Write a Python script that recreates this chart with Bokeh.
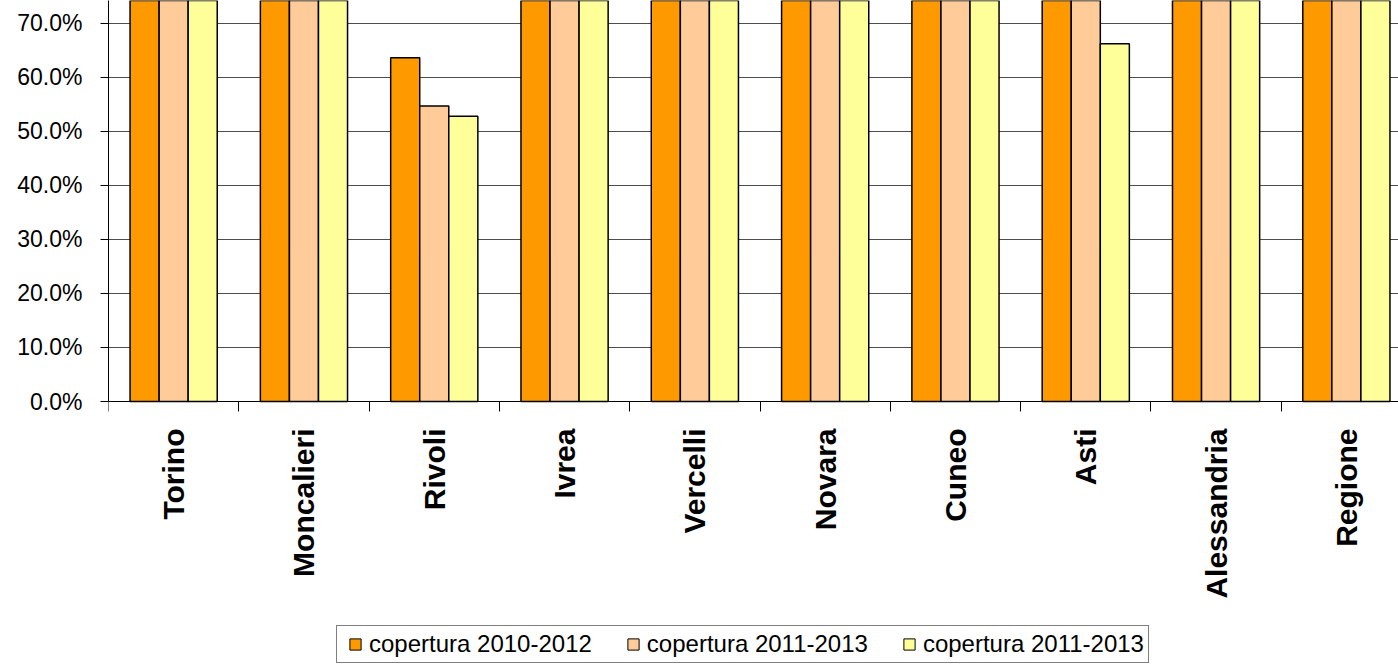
import math
from bokeh.plotting import figure
from bokeh.models import (Range1d, FixedTicker, NumeralTickFormatter, Legend,
                          LegendItem, ColumnDataSource, CustomJSTickFormatter)
from bokeh.embed import file_html
from bokeh.resources import INLINE

# Screening coverage by area (fraction of target population)
areas = ["Torino", "Moncalieri", "Rivoli", "Ivrea", "Vercelli",
         "Novara", "Cuneo", "Asti", "Alessandria", "Regione"]
cov_2010_2012 = [0.905, 0.880, 0.636, 0.910, 0.895, 0.870, 0.900, 0.850, 0.885, 0.880]
cov_2011_2013_a = [0.915, 0.890, 0.547, 0.905, 0.900, 0.880, 0.905, 0.820, 0.890, 0.885]
cov_2011_2013_b = [0.920, 0.895, 0.528, 0.915, 0.905, 0.885, 0.910, 0.662, 0.895, 0.890]
series_labels = ["copertura 2010-2012", "copertura 2011-2013", "copertura 2011-2013"]
series_colors = ["#FF9900", "#FFCC99", "#FFFF99"]
y_ticks = [0.0, 0.1, 0.2, 0.3, 0.4, 0.5, 0.6, 0.7]

FONT = "Liberation Sans"
BAR_W = 0.223
centers = [i + 0.5 for i in range(len(areas))]

# The frame covers the whole canvas right of the value axis; the region below
# zero holds the category labels and the legend.
FRAME_W, FRAME_H, PLOT_H = 1290, 664, 401
Y_TOP = 0.742
Y_BOTTOM = -Y_TOP * (FRAME_H - PLOT_H) / PLOT_H

p = figure(output_backend="svg", toolbar_location=None,
           x_range=Range1d(0, 9.9), y_range=Range1d(Y_BOTTOM, Y_TOP),
           min_border_left=108, min_border_right=0, min_border_top=0,
           min_border_bottom=0)
p.frame_width = FRAME_W
p.frame_height = FRAME_H
p.outline_line_color = None
p.background_fill_color = "white"
p.border_fill_color = "white"

legend_items = []
for k, (vals, color, lab) in enumerate(zip([cov_2010_2012, cov_2011_2013_a, cov_2011_2013_b],
                                           series_colors, series_labels)):
    src = ColumnDataSource(dict(x=[c + (k - 1) * BAR_W for c in centers], top=vals))
    p.vbar(x="x", top="top", width=BAR_W, bottom=0, source=src,
           fill_color=color, line_color="black", line_width=1.5)
    # square swatch used only as the legend key (its point lies outside the view)
    key = p.scatter(x=[-1], y=[-1], marker="square", fill_color=color,
                    line_color="black", line_width=1)
    legend_items.append(LegendItem(label=lab, renderers=[key]))

# x axis at zero: labels at category centres, ticks at category boundaries
xa = p.xaxis[0]
xa.fixed_location = 0
xa.ticker = FixedTicker(ticks=centers, minor_ticks=list(range(len(areas))))
xa.formatter = CustomJSTickFormatter(args=dict(names=areas),
                                     code="return names[Math.floor(tick)]")
xa.major_tick_out = 0
xa.major_tick_in = 0
xa.minor_tick_out = 10
xa.minor_tick_in = 0
xa.minor_tick_line_color = "black"
xa.axis_line_color = "black"
xa.major_label_orientation = math.pi / 2
xa.major_label_standoff = 17
xa.major_label_text_font = FONT
xa.major_label_text_font_style = "bold"
xa.major_label_text_font_size = "30px"
xa.major_label_text_color = "black"

ya = p.yaxis[0]
ya.bounds = (0, Y_TOP)
ya.ticker = FixedTicker(ticks=y_ticks)
ya.formatter = NumeralTickFormatter(format="0.0%")
ya.major_tick_out = 8
ya.major_tick_in = 0
ya.minor_tick_line_color = None
ya.axis_line_color = "black"
ya.major_label_standoff = 18
ya.major_label_text_font = FONT
ya.major_label_text_font_size = "23px"
ya.major_label_text_color = "black"

p.xgrid.visible = False
p.ygrid.grid_line_color = "#4d4d4d"
p.ygrid.grid_line_width = 1

# legend below the category labels (screen offset from the frame's lower-left corner)
legend = Legend(items=legend_items, orientation="horizontal", location=(228, 1))
legend.border_line_color = "black"
legend.border_line_width = 1
legend.background_fill_color = "white"
legend.background_fill_alpha = 1
legend.label_text_font = FONT
legend.label_text_font_size = "24px"
legend.label_text_color = "black"
legend.glyph_width = 28
legend.glyph_height = 28
legend.label_standoff = 0
legend.spacing = 27
legend.padding = 4
legend.margin = 0
p.add_layout(legend, "center")

open("out.html", "w").write(file_html(p, INLINE))
